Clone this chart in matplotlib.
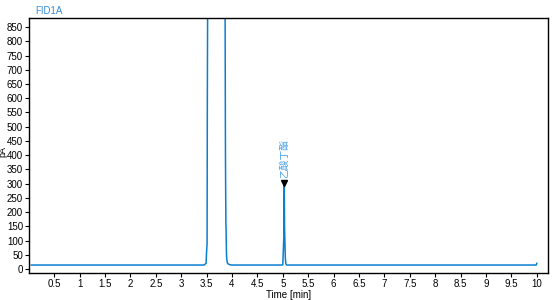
import matplotlib.pyplot as plt
import numpy as np

plt.rcParams['font.family'] = ['Liberation Sans', 'DejaVu Sans']

# chromatogram trace (time in min, signal in pA)
t = [0.05, 3.45, 3.49, 3.50, 3.51, 3.515, 3.52, 3.53, 3.86, 3.865, 3.87, 3.872,
     3.875, 3.88, 3.885, 3.89, 3.895, 3.90, 3.91, 3.93, 3.96, 4.00, 4.98, 5.00,
     5.01, 5.02, 5.025, 5.03, 5.035, 5.04, 5.05, 5.06, 5.08, 9.99, 10.0, 10.0]
signal = [14, 14, 20, 60, 90, 600, 880, 1500, 1500, 880, 505, 390, 300, 165, 130,
          67, 40, 32, 21, 17, 15, 14, 14, 15, 60, 110, 200, 302, 150, 110, 40,
          18, 14, 14, 20, 20]

peak_time = [5.03]
peak_height = [302]
peak_name = ['乙酸丁酯']

xticks = np.arange(0.5, 10.01, 0.5)
yticks = np.arange(0, 851, 50)
xlabels = ['%g' % v for v in xticks]

fig = plt.figure(figsize=(5.54, 3.0), dpi=100)
ax = fig.add_axes([0.052, 0.09, 0.937, 0.85])

ax.plot(t, signal, color='#0a7fd0', lw=1.1)
ax.plot(peak_time, peak_height, marker='v', color='black', ms=5, ls='none')
for x, y, name in zip(peak_time, peak_height, peak_name):
    ax.text(x, y + 18, name, rotation=90, ha='center', va='bottom',
            fontsize=7, color='#4aa3e8',
            family=['Noto Sans CJK SC', 'DejaVu Sans'])

ax.set_xlim(0, 10.22)
ax.set_ylim(-14, 882)
ax.set_xticks(xticks)
ax.set_xticklabels(xlabels)
ax.set_yticks(yticks)
ax.tick_params(labelsize=7, length=3, width=0.8, pad=1.2)
for s in ax.spines.values():
    s.set_linewidth(1.0)

ax.set_xlabel('Time [min]', fontsize=7, labelpad=1)
ax.set_ylabel('pA', fontsize=6.5)
ax.yaxis.set_label_coords(-0.0405, 0.475)
fig.text(0.063, 0.98, 'FID1A', fontsize=7, color='#3a8fd8', va='top')

fig.savefig('out.png', dpi=100)
